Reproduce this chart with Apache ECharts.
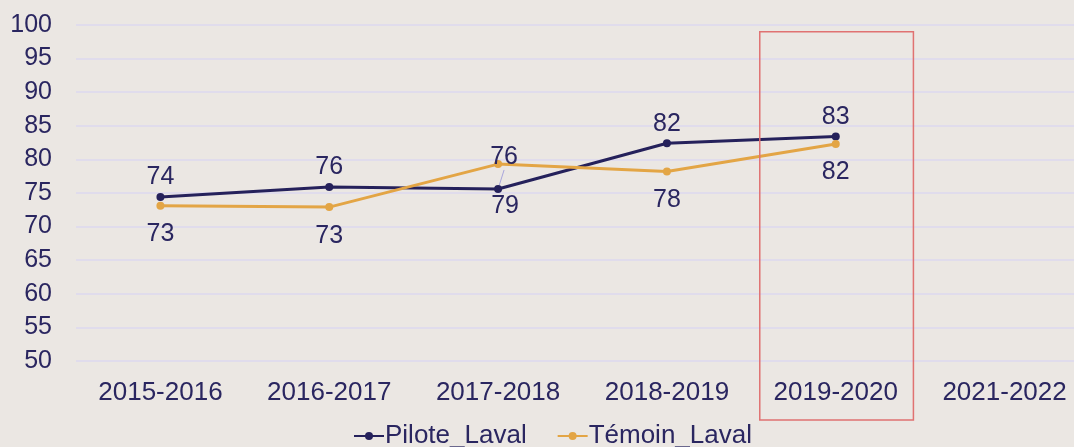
<!DOCTYPE html>
<html>
<head>
<meta charset="utf-8">
<script src="https://cdn.jsdelivr.net/npm/echarts@6/dist/echarts.min.js"></script>
<style>
  html, body { margin: 0; padding: 0; background: #ebe7e3; }
  #chart { width: 1074px; height: 447px; }
</style>
</head>
<body>
<div id="chart"></div>
<script>
// chart data
var categories = ['2015-2016', '2016-2017', '2017-2018', '2018-2019', '2019-2020', '2021-2022'];
var piloteLaval = [74.4, 75.9, 75.6, 82.4, 83.4, null];
var temoinLaval = [73.1, 72.9, 79.3, 78.2, 82.3, null];
var highlighted = '2019-2020';

var NAVY = '#25215b';
var ORANGE = '#e3a545';
var TEXT = '#2a2660';
var FONT = 'Liberation Sans, Arial, sans-serif';

var chart = echarts.init(document.getElementById('chart'));

function roundLabel(p) {
  return Math.round(p.value);
}

// only the crowded 2017-2018 pilot label gets a leader line
var piloteData = piloteLaval.map(function (v, i) {
  if (i === 2) {
    return { value: v, labelLine: { show: true, lineStyle: { color: '#a9a6dc', width: 1 } } };
  }
  return v;
});

var option = {
  backgroundColor: '#ebe7e3',
  animation: false,
  textStyle: { fontFamily: FONT, color: TEXT },
  grid: { left: 76, width: 1013, top: 25, bottom: 86, outerBoundsMode: 'none' },
  legend: {
    top: 418,
    left: 348,
    itemWidth: 30,
    itemHeight: 10,
    itemGap: 30,
    textStyle: { fontSize: 26, color: TEXT, fontFamily: FONT, padding: [0, 0, 0, -4] },
    data: ['Pilote_Laval', 'Témoin_Laval']
  },
  xAxis: {
    type: 'category',
    data: categories,
    boundaryGap: true,
    axisLine: { show: false },
    axisTick: { show: false },
    axisLabel: { fontSize: 26, color: TEXT, margin: 19, interval: 0 }
  },
  yAxis: {
    type: 'value',
    min: 50,
    max: 100,
    interval: 5,
    axisLine: { show: false },
    axisTick: { show: false },
    axisLabel: { fontSize: 25, color: TEXT, margin: 24 },
    splitLine: { lineStyle: { color: '#dcd8ef', width: 1.5 } }
  },
  series: [
    {
      name: 'Pilote_Laval',
      type: 'line',
      data: piloteData,
      symbol: 'circle',
      symbolSize: 8,
      itemStyle: { color: NAVY },
      lineStyle: { color: NAVY, width: 3 },
      label: {
        show: true, position: 'top', distance: 3,
        fontSize: 25, color: TEXT, formatter: roundLabel
      },
      labelLayout: function (p) {
        if (p.dataIndex === 2) return { dx: 6, dy: -12 };
        return {};
      }
    },
    {
      name: 'Témoin_Laval',
      type: 'line',
      data: temoinLaval,
      symbol: 'circle',
      symbolSize: 8,
      itemStyle: { color: ORANGE },
      lineStyle: { color: ORANGE, width: 3 },
      label: {
        show: true, position: 'bottom', distance: 12,
        fontSize: 25, color: TEXT, formatter: roundLabel
      },
      labelLayout: function (p) {
        if (p.dataIndex === 2) return { dx: 7, dy: 14 };
        return {};
      }
    }
  ]
};

chart.setOption(option);

// red frame around the highlighted school year
var cx = chart.convertToPixel({ xAxisIndex: 0 }, highlighted);
var band = chart.convertToPixel({ xAxisIndex: 0 }, categories[1]) - chart.convertToPixel({ xAxisIndex: 0 }, categories[0]);
var yTop = chart.convertToPixel({ yAxisIndex: 0 }, 99);
var yBase = chart.convertToPixel({ yAxisIndex: 0 }, 50);
chart.setOption({
  graphic: [{
    type: 'rect',
    shape: { x: cx - band * 0.45, y: yTop, width: band * 0.91, height: yBase - yTop + 59 },
    style: { fill: 'none', stroke: '#e07272', lineWidth: 1.5 },
    z: 10
  }]
});
</script>
</body>
</html>
